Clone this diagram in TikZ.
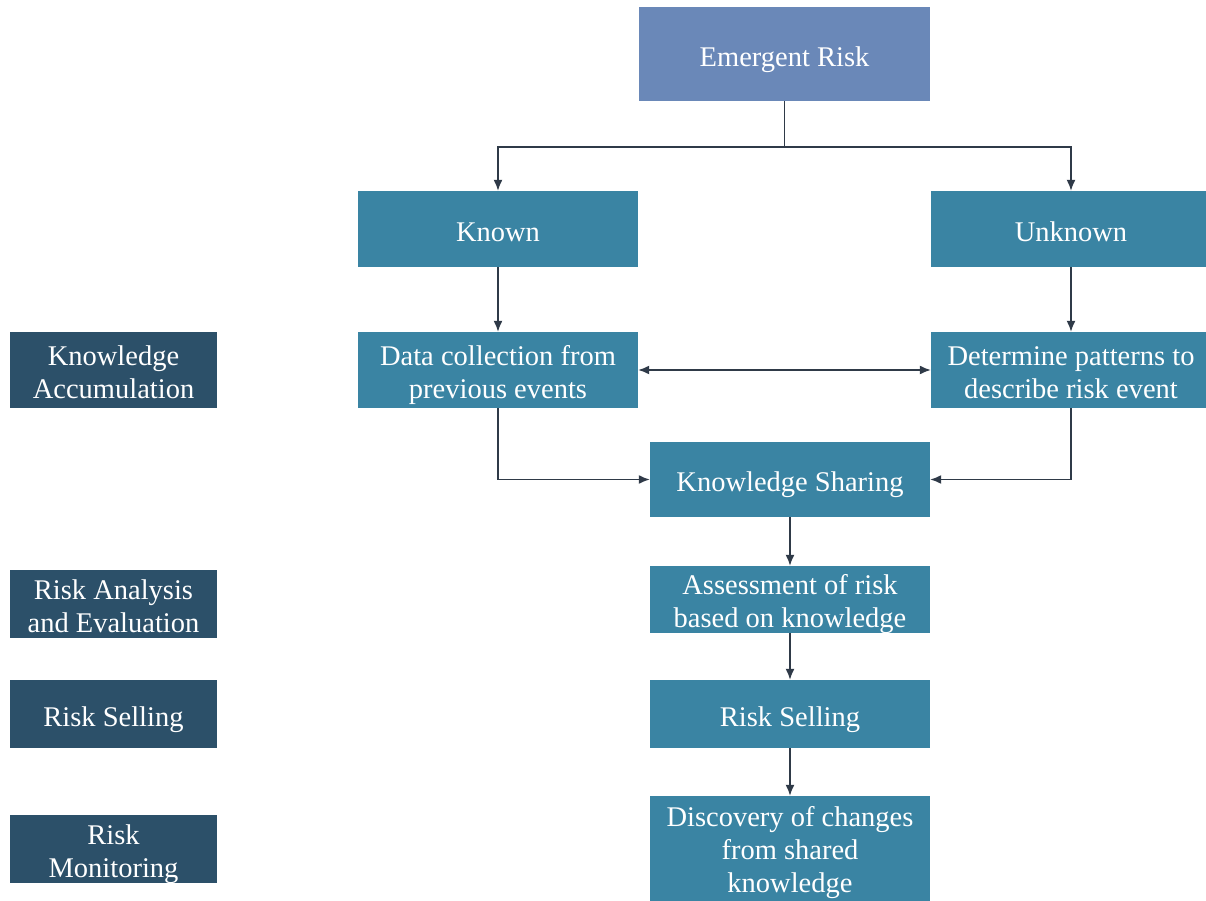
\documentclass[tikz,border=0pt]{standalone}
\usepackage{fontspec}
\setmainfont{Liberation Serif}
\usetikzlibrary{arrows.meta}
\definecolor{topblue}{HTML}{6A88B8}
\definecolor{teal}{HTML}{3A84A3}
\definecolor{darkbox}{HTML}{2C5069}
\definecolor{linecol}{HTML}{2F3A48}
\newcommand{\bt}[2][5.5pt]{\raisebox{-#1}[\height][\depth]{\begin{tabular}{@{}c@{}}#2\end{tabular}}}
\begin{document}
\begin{tikzpicture}[x=1pt,y=-1pt,
  box/.style={fill=teal,text=white,align=center,inner sep=0pt,
    font=\fontsize{28.5}{33}\selectfont,minimum width=280pt},
  sidebox/.style={box,fill=darkbox,minimum width=207pt,minimum height=68pt},
  arr/.style={draw=linecol,line width=1.5pt,-{Latex[length=11pt,width=9pt]}},
  darr/.style={draw=linecol,line width=1.5pt,{Latex[length=11pt,width=9pt]}-{Latex[length=11pt,width=9pt]}},
  ln/.style={draw=linecol,line width=1.6pt}]
\useasboundingbox (0,0) rectangle (1206,901);
\node[box,fill=topblue,minimum width=291pt,minimum height=94pt] (er) at (784.5,54) {\bt{Emergent Risk}};
\node[box,minimum height=76pt] (known) at (498,229) {\bt{Known}};
\node[box,minimum height=76pt] (unknown) at (1071,229) {\bt{Unknown}};
\node[box,minimum height=76pt] (data) at (498,370) {\bt[5pt]{Data collection from\\previous events}};
\node[box,minimum height=76pt] (det) at (1071,370) {\bt[5pt]{Determine patterns to\\describe risk event}};
\node[box,minimum height=75pt] (ks) at (790,479.5) {\bt{Knowledge Sharing}};
\node[box,minimum height=67pt] (assess) at (790,599.5) {\bt[5pt]{Assessment of risk\\based on knowledge}};
\node[box,minimum height=68pt] (rsell) at (790,714) {\bt{Risk Selling}};
\node[box,minimum height=109pt] (disc) at (790,850.5) {\bt[2.5pt]{Discovery of changes\\from shared\\knowledge}};
\node[sidebox,minimum height=76pt] (ka) at (113.5,370) {\bt[5pt]{Knowledge\\Accumulation}};
\node[sidebox] (ra) at (113.5,604) {\bt[5pt]{Risk Analysis\\and Evaluation}};
\node[sidebox] (rs) at (113.5,714) {\bt{Risk Selling}};
\node[sidebox] (rm) at (113.5,849) {\bt[5pt]{Risk\\Monitoring}};
\coordinate (split) at (784.5,147);
\draw[ln] (er.south) -- (split);
\draw[arr] (split) -| (known.north);
\draw[arr] (split) -| (unknown.north);
\draw[arr] (known.south) -- (data.north);
\draw[arr] (unknown.south) -- (det.north);
\draw[darr] (data.east) -- (det.west);
\draw[arr] (data.south) |- (ks.west);
\draw[arr] (det.south) |- (ks.east);
\draw[arr] (ks.south) -- (assess.north);
\draw[arr] (assess.south) -- (rsell.north);
\draw[arr] (rsell.south) -- (disc.north);
\end{tikzpicture}
\end{document}
